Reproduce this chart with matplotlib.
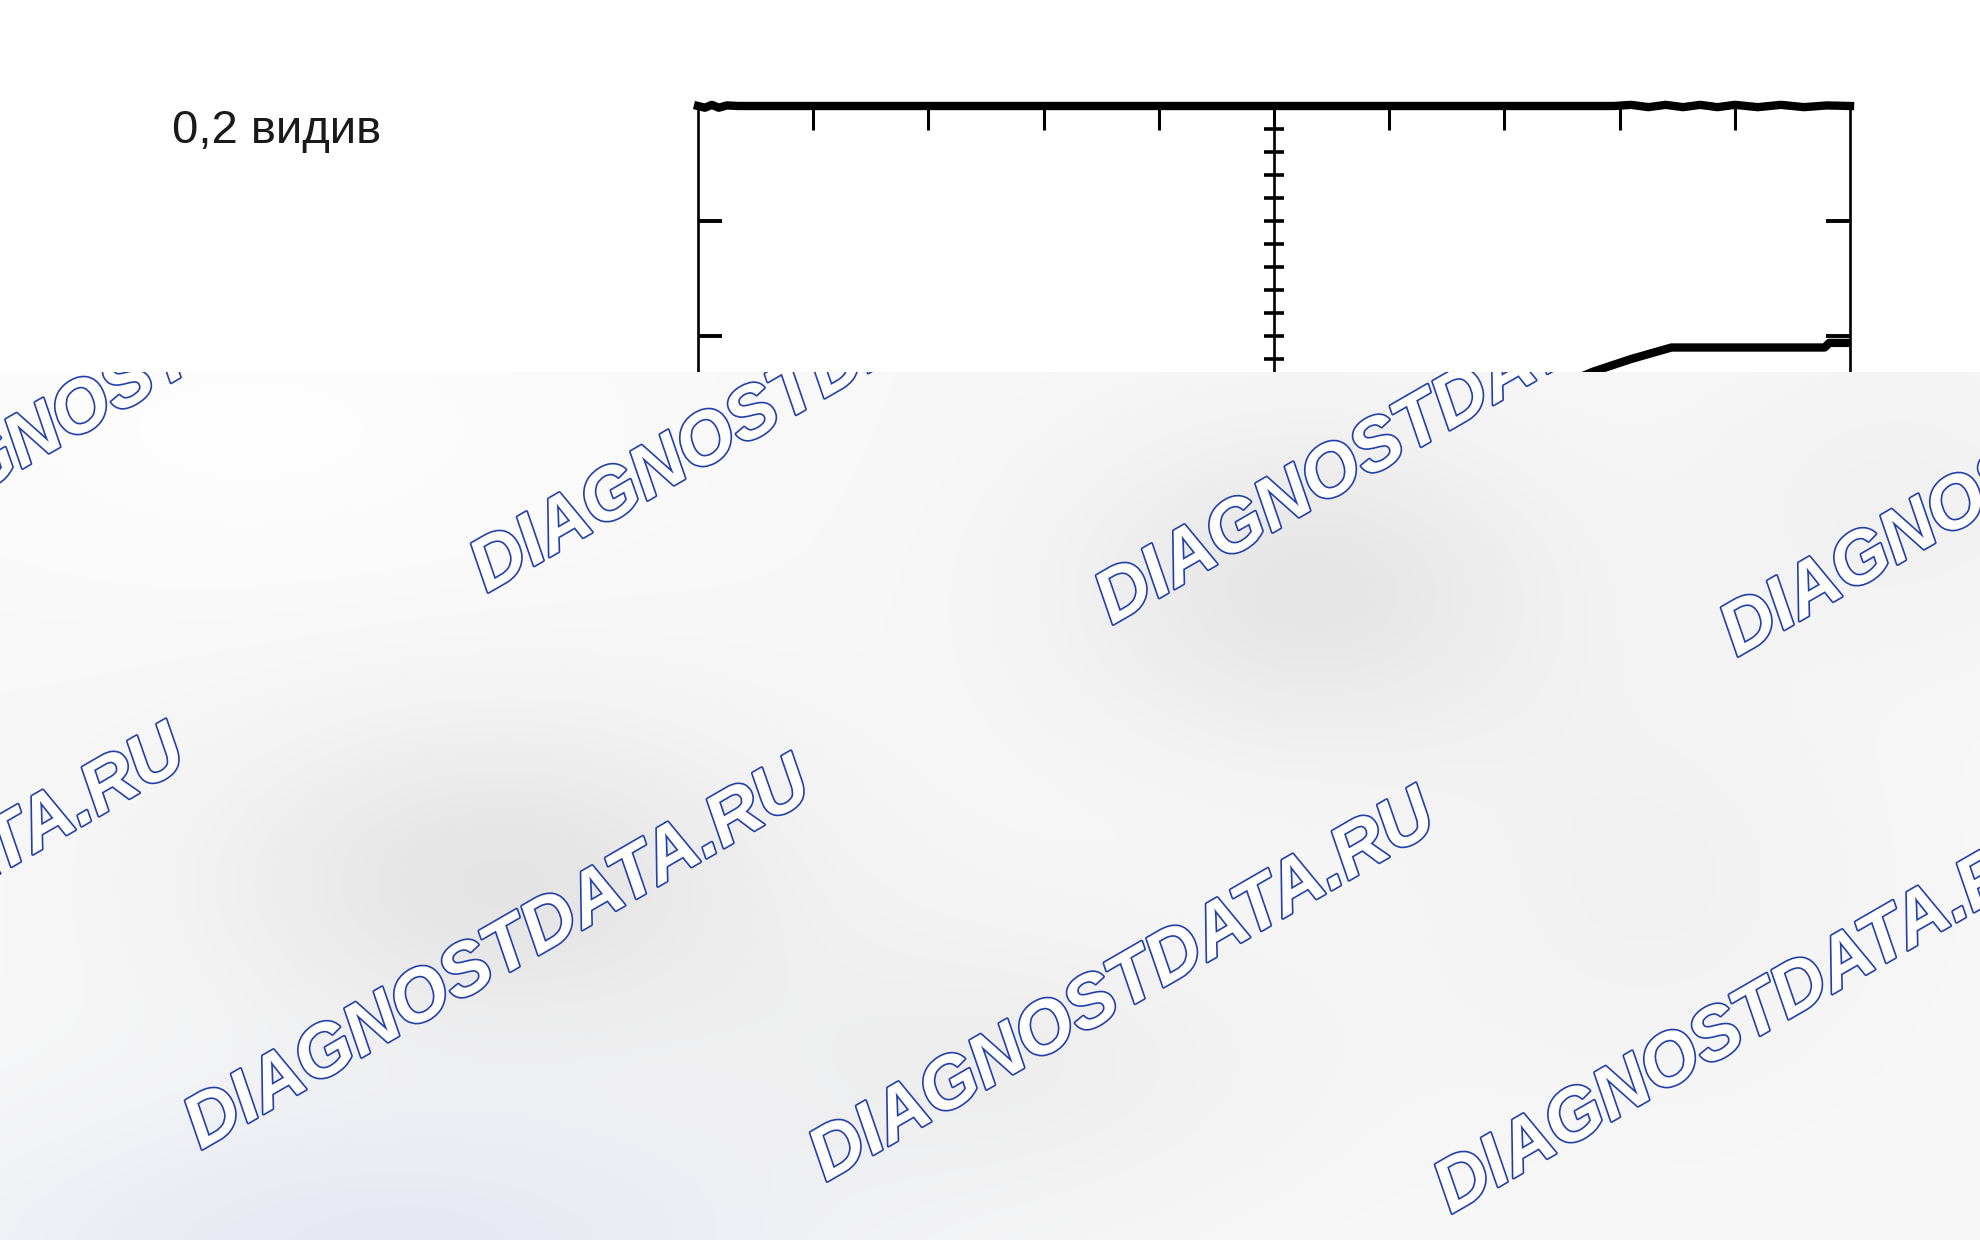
import numpy as np
import matplotlib.pyplot as plt
from matplotlib import patheffects as pe

# oscilloscope screen: 10 x 8 divisions
x_major = [1, 2, 3, 4, 5, 6, 7, 8, 9]
y_major = [-3, -2, -1, 0, 1, 2, 3]
center_minor = np.arange(-4, 4.01, 0.2)

# trace clipped at the top edge of the screen
top_x = [0.0, 0.06, 0.12, 0.18, 0.25, 0.35, 7.95, 8.1, 8.25, 8.4, 8.55, 8.7,
         8.85, 9.0, 9.2, 9.4, 9.6, 9.8, 10.0]
top_y = [4.0, 3.985, 4.01, 3.985, 4.005, 4.0, 4.0, 4.01, 3.99, 4.01, 3.99, 4.01,
         3.99, 4.01, 3.99, 4.01, 3.99, 4.005, 4.0]

# second trace rising to a plateau
ramp_x = [7.2, 7.77, 8.1, 8.45, 9.78, 9.82, 10.0]
ramp_y = [1.45, 1.69, 1.80, 1.90, 1.90, 1.94, 1.94]

label = '0,2 видив'
watermark = 'DIAGNOSTDATA.RU'

W, H = 1980, 1240
fig = plt.figure(figsize=(W / 100, H / 100), dpi=100)
fig.patch.set_facecolor('white')

# scope axes (pixel box 698..1850 x 106..1026)
ax = fig.add_axes([698 / W, 1 - 1026 / H, 1152 / W, 920 / H])
ax.set_xlim(0, 10)
ax.set_ylim(-4, 4)
for s in ax.spines.values():
    s.set_linewidth(1.9)
    s.set_color('black')
ax.set_xticks(x_major)
ax.set_yticks(y_major)
ax.tick_params(axis='x', direction='in', top=True, bottom=True, length=17,
               width=2.2, labelbottom=False)
ax.tick_params(axis='y', direction='in', left=True, right=True, length=17,
               width=2.8, labelleft=False)
ax.axvline(5, color='black', lw=1.9)
ax.hlines(center_minor, 4.91, 5.09, color='black', lw=2.6)

ax.plot(top_x, top_y, color='black', lw=6, clip_on=False)
ax.plot(ramp_x, ramp_y, color='black', lw=6)

fig.text(172 / W, 1 - 143 / H, label, fontsize=34, family='Liberation Sans',
         color='#1a1a1a', va='baseline', ha='left')

# blurred overlay with watermark
top = 372
ov = fig.add_axes([0, 0, 1, 1 - top / H])
ov.set_xlim(0, W)
ov.set_ylim(H, top)
ov.axis('off')

xx, yy = np.meshgrid(np.arange(W), np.arange(top, H))
shade = np.full(xx.shape, 0.972)
blobs = [(500, 880, 280, 160, 0.075), (1310, 590, 240, 160, 0.07),
         (1000, 1060, 300, 150, 0.035), (1650, 880, 220, 200, 0.025),
         (1900, 500, 200, 150, 0.025)]
for cx, cy, sx, sy, d in blobs:
    shade -= d * np.exp(-((xx - cx) / sx) ** 2 - ((yy - cy) / sy) ** 2)
shade += 0.022 * np.exp(-((xx - 250) / 380) ** 2 - ((yy - 430) / 170) ** 2)
tint = np.exp(-((xx - 380) / 420) ** 2 - ((yy - 1260) / 160) ** 2)
img = np.dstack([shade - 0.07 * tint, shade - 0.06 * tint, shade - 0.02 * tint])
ov.imshow(np.clip(img, 0, 1), extent=[0, W, H, top], aspect='auto',
          interpolation='bilinear', zorder=0)

rows = [(487, 593), (201, 1150)]
for x0, y0 in rows:
    for i in range(-1, 4):
        ov.text(x0 + 625 * i, y0 + 32 * i, watermark, fontsize=53,
                family='Liberation Sans', weight='bold', style='italic',
                color='white', rotation=30, rotation_mode='anchor',
                ha='left', va='baseline', clip_on=True, zorder=2,
                path_effects=[pe.withStroke(linewidth=2.4, foreground='#2440a8')])

fig.savefig('out.png', dpi=100)
